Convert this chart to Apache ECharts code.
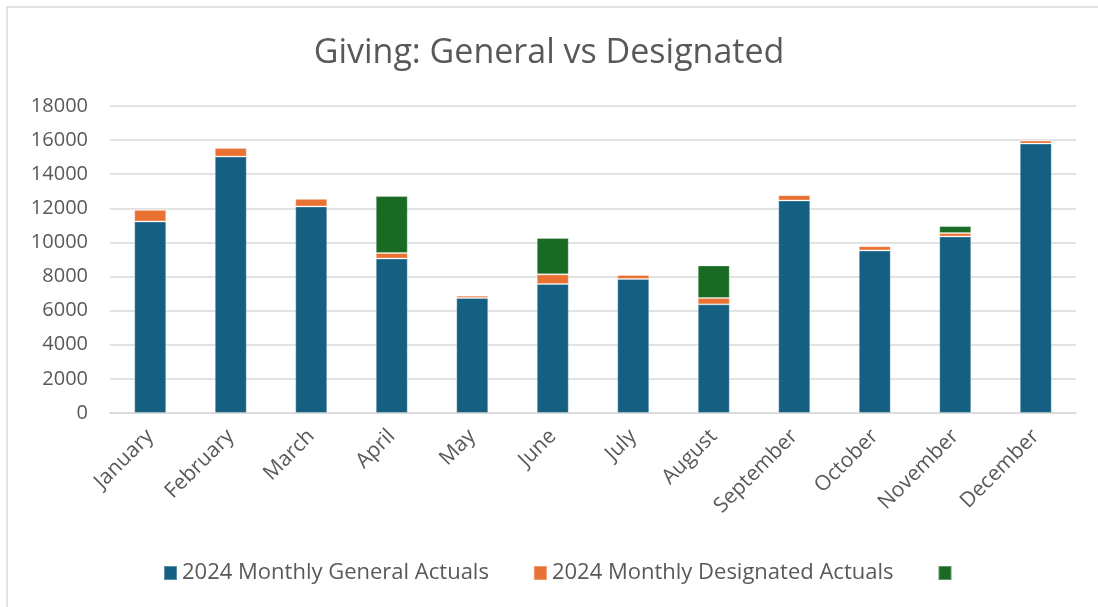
<!DOCTYPE html>
<html>
<head>
<meta charset="utf-8">
<script src="https://cdn.jsdelivr.net/npm/echarts@6/dist/echarts.min.js"></script>
<style>
html,body{margin:0;padding:0;background:#fff;}
#chart{width:1098px;height:607px;}
</style>
</head>
<body>
<div id="chart"></div>
<script>
const months = ['January','February','March','April','May','June','July','August','September','October','November','December'];
const generalActuals = [11230, 15035, 12110, 9060, 6745, 7565, 7860, 6370, 12460, 9530, 10350, 15800];
const designatedActuals = [685, 510, 450, 320, 135, 565, 235, 375, 315, 255, 200, 175];
const thirdSeries = [0, 0, 0, 3340, 0, 2130, 0, 1910, 0, 0, 410, 0];
const yTicks = [0, 2000, 4000, 6000, 8000, 10000, 12000, 14000, 16000, 18000];

const FONT = '"Open Sans", sans-serif';
const chart = echarts.init(document.getElementById('chart'));
const barStyle = (c) => ({ color: c, borderColor: 'rgba(255,255,255,0.3)', borderWidth: 1 });

chart.setOption({
  animation: false,
  backgroundColor: '#fff',
  title: {
    text: 'Giving: General vs Designated',
    left: 'center',
    top: 31,
    textStyle: { fontFamily: FONT, fontSize: 34, fontWeight: 'normal', color: '#595959' }
  },
  graphic: [{
    type: 'rect',
    shape: { x: 7, y: 7, width: 1200, height: 800 },
    style: { fill: 'none', stroke: '#d9d9d9', lineWidth: 1.5 },
    silent: true
  }],
  legend: {
    top: 557,
    left: 158,
    itemWidth: 13,
    itemHeight: 14,
    itemGap: 44,
    itemTextGap: 7,
    icon: 'rect',
    textStyle: { fontFamily: FONT, fontSize: 22, color: '#595959' },
    data: ['2024 Monthly General Actuals', '2024 Monthly Designated Actuals', ' ']
  },
  grid: { left: 110, right: 22, top: 106, bottom: 194, containLabel: false },
  xAxis: {
    type: 'category',
    data: months,
    axisLine: { lineStyle: { color: '#d9d9d9', width: 1.5 } },
    axisTick: { show: false },
    axisLabel: { rotate: 45, fontFamily: FONT, fontSize: 21, color: '#595959', margin: 20, interval: 0 }
  },
  yAxis: {
    type: 'value',
    min: yTicks[0],
    max: yTicks[yTicks.length - 1],
    interval: 2000,
    axisLine: { show: false },
    axisTick: { show: false },
    splitLine: { lineStyle: { color: '#d9d9d9', width: 1.5 } },
    axisLabel: { fontFamily: FONT, fontSize: 20, color: '#595959', margin: 22, formatter: (v) => String(v) }
  },
  series: [
    { name: '2024 Monthly General Actuals', type: 'bar', stack: 'a', barWidth: 32, data: generalActuals, itemStyle: barStyle('#156082') },
    { name: '2024 Monthly Designated Actuals', type: 'bar', stack: 'a', barWidth: 32, data: designatedActuals, itemStyle: barStyle('#E97132') },
    { name: ' ', type: 'bar', stack: 'a', barWidth: 32, data: thirdSeries, itemStyle: barStyle('#196B24') }
  ]
});
</script>
</body>
</html>
